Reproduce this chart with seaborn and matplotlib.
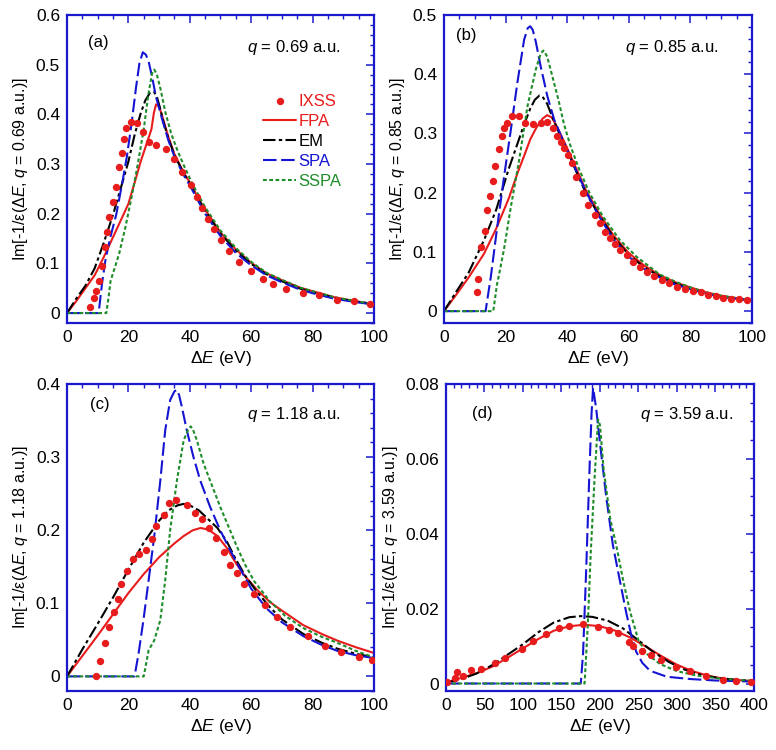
import numpy as np
import pandas as pd
import matplotlib
matplotlib.use("Agg")
import matplotlib.pyplot as plt
import seaborn as sns
from matplotlib.ticker import MultipleLocator, FuncFormatter

# ---------------- data: panel (a) q = 0.69 a.u. ----------------
E_ixss_a = [7.4, 8.7, 9.5, 10.5, 11.4, 12.5, 13.0, 13.8, 14.9, 15.9, 17.0, 17.9, 18.7, 19.2, 20.8, 22.8,
            24.9, 26.8, 29.0, 32.3, 34.9, 37.5, 40.3, 42.2, 44.0, 45.8, 47.9, 50.1, 52.7, 56.1, 59.8,
            63.7, 67.1, 71.2, 76.9, 82.0, 88.0, 93.5, 98.6]
ixss_a = [0.012, 0.03, 0.045, 0.065, 0.095, 0.133, 0.163, 0.194, 0.224, 0.254, 0.294, 0.323, 0.351, 0.373,
          0.384, 0.382, 0.364, 0.345, 0.338, 0.33, 0.31, 0.284, 0.257, 0.233, 0.211, 0.19, 0.17, 0.148,
          0.125, 0.103, 0.084, 0.069, 0.059, 0.049, 0.04, 0.036, 0.027, 0.024, 0.019]
E_fpa_a = [0, 3, 6, 9, 12, 15, 18, 20, 22, 24, 26, 27.5, 28.3, 29.0, 30, 31, 33, 35, 38, 40, 43, 45, 50,
           55, 60, 65, 70, 76, 80, 87, 93, 100]
fpa_a = [0, 0.024, 0.05, 0.076, 0.113, 0.153, 0.193, 0.22, 0.262, 0.305, 0.342, 0.37, 0.403, 0.42, 0.416,
         0.397, 0.355, 0.32, 0.283, 0.263, 0.229, 0.208, 0.162, 0.128, 0.101, 0.08, 0.066, 0.051, 0.044,
         0.032, 0.025, 0.018]
E_em_a = [0, 3, 6, 9, 12, 15, 18, 20, 22, 24, 25.5, 27, 28.2, 29.2, 30.2, 31.5, 33, 35, 38, 40, 43, 45, 50,
          55, 60, 65, 70, 76, 80, 87, 93, 100]
em_a = [0, 0.029, 0.055, 0.09, 0.142, 0.198, 0.262, 0.305, 0.358, 0.402, 0.428, 0.443, 0.446, 0.437, 0.415,
        0.383, 0.352, 0.318, 0.281, 0.261, 0.227, 0.206, 0.16, 0.126, 0.099, 0.078, 0.064, 0.049, 0.042,
        0.031, 0.024, 0.018]
E_spa_a = [0, 10.3, 11.4, 12.5, 14, 16, 18, 19.5, 21, 22.5, 23.6, 24.7, 25.7, 26.6, 27.7, 29, 31, 33, 35,
           38, 40, 45, 50, 55, 60, 65, 70, 76, 80, 87, 93, 100]
spa_a = [0, 0, 0.059, 0.106, 0.15, 0.197, 0.262, 0.315, 0.38, 0.455, 0.503, 0.525, 0.52, 0.506, 0.476,
         0.435, 0.39, 0.348, 0.315, 0.278, 0.257, 0.2, 0.155, 0.121, 0.096, 0.076, 0.062, 0.047, 0.04,
         0.029, 0.023, 0.017]
E_sspa_a = [0, 12.8, 13.5, 14.2, 15.5, 17, 19, 21, 23, 25, 26.5, 27.7, 28.4, 29.2, 30.5, 32, 34, 36, 38,
            41, 45, 50, 55, 60, 65, 70, 76, 80, 87, 93, 100]
sspa_a = [0, 0, 0.03, 0.065, 0.09, 0.12, 0.172, 0.232, 0.298, 0.37, 0.44, 0.482, 0.49, 0.482, 0.45, 0.405,
          0.36, 0.327, 0.298, 0.258, 0.213, 0.166, 0.131, 0.103, 0.081, 0.067, 0.051, 0.044, 0.032,
          0.025, 0.018]

# ---------------- data: panel (b) q = 0.85 a.u. ----------------
E_ixss_b = [10.6, 11.1, 12.1, 13.2, 14.1, 15.0, 15.9, 16.6, 17.9, 18.7, 19.5, 20.3, 22.2, 24.4, 26.3, 28.9,
            31.5, 33.3, 35.5, 36.8, 37.9, 39.0, 40.2, 41.4, 43.0, 45.2, 46.8, 49.0, 50.6, 52.2, 53.9,
            55.5, 57.3, 59.3, 61.4, 63.6, 66.0, 68.3, 70.7, 73.1, 75.7, 78.2, 80.7, 83.3, 85.6, 88.2,
            90.7, 93.2, 95.8, 98.3]
ixss_b = [0.033, 0.055, 0.109, 0.135, 0.171, 0.195, 0.22, 0.245, 0.274, 0.295, 0.309, 0.317, 0.33, 0.33,
          0.317, 0.316, 0.318, 0.32, 0.309, 0.296, 0.286, 0.275, 0.263, 0.25, 0.227, 0.199, 0.179, 0.162,
          0.148, 0.134, 0.124, 0.114, 0.103, 0.095, 0.083, 0.075, 0.066, 0.059, 0.052, 0.047, 0.041,
          0.037, 0.034, 0.032, 0.028, 0.025, 0.023, 0.021, 0.02, 0.019]
E_fpa_b = [0, 4, 8, 13, 17, 21, 24, 26, 28, 30, 32, 33.5, 35, 37, 40, 43, 46, 50, 55, 60, 65, 70, 75, 80,
           85, 90, 95, 100]
fpa_b = [0, 0.028, 0.057, 0.097, 0.14, 0.19, 0.235, 0.262, 0.29, 0.31, 0.325, 0.331, 0.327, 0.308, 0.275,
         0.24, 0.205, 0.168, 0.128, 0.098, 0.077, 0.061, 0.049, 0.04, 0.032, 0.026, 0.022, 0.018]
E_em_b = [0, 4, 8, 13, 17, 21, 24, 26, 28, 29.5, 31, 32, 33.5, 35, 37, 40, 43, 46, 50, 55, 60, 65, 70, 75,
          80, 85, 90, 95, 100]
em_b = [0, 0.033, 0.065, 0.12, 0.172, 0.24, 0.285, 0.315, 0.342, 0.357, 0.364, 0.362, 0.35, 0.33, 0.305,
        0.272, 0.235, 0.2, 0.165, 0.125, 0.095, 0.074, 0.059, 0.047, 0.038, 0.031, 0.025, 0.021, 0.018]
E_spa_b = [0, 13.5, 15.2, 17.3, 19.5, 21.7, 23.8, 26, 27.2, 28, 28.8, 29.8, 31.4, 33.6, 35.8, 39, 42.3,
           46, 50, 55, 60, 65, 70, 75, 80, 85, 90, 95, 100]
spa_b = [0, 0, 0.058, 0.143, 0.227, 0.306, 0.385, 0.458, 0.478, 0.481, 0.475, 0.455, 0.413, 0.362, 0.323,
         0.284, 0.244, 0.203, 0.163, 0.121, 0.092, 0.071, 0.057, 0.045, 0.037, 0.03, 0.024, 0.021, 0.018]
E_sspa_b = [0, 16, 17.2, 18, 19.5, 21.7, 24.4, 27.1, 29.8, 31.4, 32.3, 33.5, 35, 37, 39, 41, 44, 47.3,
            51.7, 57.1, 62.5, 70, 75, 80, 85, 90, 95, 100]
sspa_b = [0, 0, 0.045, 0.065, 0.105, 0.176, 0.255, 0.346, 0.408, 0.435, 0.44, 0.43, 0.4, 0.36, 0.315,
          0.28, 0.238, 0.199, 0.159, 0.12, 0.092, 0.062, 0.05, 0.04, 0.032, 0.026, 0.022, 0.019]

# ---------------- data: panel (c) q = 1.18 a.u. ----------------
E_ixss_c = [9.4, 10.8, 12.5, 13.8, 15.2, 16.5, 17.6, 19.5, 21.5, 23.3, 25.7, 27.7, 29.1, 31.5, 33.1, 35.6,
            39.0, 41.8, 43.9, 46.3, 48.6, 51.0, 53.1, 55.4, 57.8, 60.9, 64.6, 68.4, 72.8, 78.4, 84.2,
            89.4, 95.0, 99.3]
ixss_c = [0.001, 0.021, 0.045, 0.068, 0.088, 0.106, 0.126, 0.144, 0.16, 0.167, 0.173, 0.188, 0.206, 0.221,
          0.237, 0.241, 0.234, 0.224, 0.215, 0.203, 0.189, 0.17, 0.153, 0.141, 0.127, 0.113, 0.097,
          0.081, 0.068, 0.055, 0.041, 0.033, 0.027, 0.023]
E_fpa_c = [0, 5, 10, 15, 20, 25, 30, 35, 38, 41, 43.5, 46, 49, 52, 55, 58, 62, 66, 70, 77, 83, 88, 94, 100]
fpa_c = [0, 0.028, 0.056, 0.085, 0.114, 0.14, 0.163, 0.182, 0.192, 0.2, 0.203, 0.201, 0.192, 0.176, 0.155,
         0.137, 0.118, 0.102, 0.09, 0.07, 0.058, 0.049, 0.04, 0.032]
E_em_c = [0, 5, 10, 15, 20, 25, 30, 33, 36, 38, 40, 43, 46, 49, 52, 55, 58, 62, 66, 70, 77, 83, 88, 94, 100]
em_c = [0, 0.037, 0.072, 0.108, 0.146, 0.183, 0.213, 0.227, 0.234, 0.236, 0.234, 0.227, 0.215, 0.203,
        0.185, 0.16, 0.138, 0.115, 0.095, 0.078, 0.058, 0.046, 0.038, 0.031, 0.026]
E_spa_c = [0, 22, 23.3, 24.9, 26.6, 28.4, 30.4, 32, 33.6, 35, 35.8, 36.5, 37.4, 39, 41.2, 43.4, 46.6,
           49.9, 53.1, 56, 60, 65, 70, 77, 83, 88, 94, 100]
spa_c = [0, 0, 0.031, 0.077, 0.132, 0.191, 0.268, 0.337, 0.378, 0.39, 0.392, 0.385, 0.369, 0.337, 0.3,
         0.268, 0.232, 0.2, 0.173, 0.15, 0.12, 0.093, 0.074, 0.055, 0.043, 0.035, 0.029, 0.025]
E_sspa_c = [0, 25, 26.6, 28.4, 30.4, 32, 33.6, 35.8, 38, 39.5, 40.3, 41, 42.3, 44.5, 46.6, 49.9, 53.1,
            55.4, 58, 61, 66, 71, 77, 83, 88, 94, 100]
sspa_c = [0, 0, 0.036, 0.049, 0.077, 0.132, 0.2, 0.268, 0.323, 0.338, 0.342, 0.338, 0.323, 0.291, 0.268,
          0.232, 0.2, 0.177, 0.153, 0.13, 0.103, 0.083, 0.066, 0.054, 0.046, 0.035, 0.026]

# ---------------- data: panel (d) q = 3.59 a.u. ----------------
E_ixss_d = [1.3, 12, 14.3, 22.5, 32, 45.5, 63, 77, 99, 113, 130, 146.5, 160, 178.5, 197, 211.5, 223,
            237.5, 243, 255, 265.7, 279.5, 299, 317, 338, 359.7, 377, 396.5]
ixss_d = [0.0003, 0.0016, 0.0031, 0.0021, 0.0036, 0.004, 0.0056, 0.0068, 0.0093, 0.0113, 0.0133, 0.0147,
          0.0154, 0.0158, 0.0151, 0.0142, 0.0136, 0.011, 0.0101, 0.0088, 0.0077, 0.0063, 0.0045, 0.0033,
          0.002, 0.0009, 0.0007, 0.0004]
E_fpa_d = [0, 20, 40, 60, 80, 100, 120, 140, 160, 180, 200, 220, 240, 260, 280, 300, 320, 340, 360, 380, 400]
fpa_d = [0.0003, 0.0015, 0.0028, 0.0045, 0.0069, 0.0094, 0.0119, 0.0141, 0.0153, 0.0157, 0.0153, 0.0141,
         0.0122, 0.0098, 0.0073, 0.005, 0.0033, 0.0021, 0.0013, 0.0009, 0.0006]
E_em_d = [0, 20, 40, 60, 80, 100, 120, 140, 160, 175, 190, 210, 230, 250, 270, 290, 310, 330, 350, 375, 400]
em_d = [0.0002, 0.0012, 0.0027, 0.0049, 0.0077, 0.0105, 0.0137, 0.0163, 0.0177, 0.018, 0.0178, 0.0168,
        0.0147, 0.0115, 0.0083, 0.0057, 0.0037, 0.0024, 0.0016, 0.001, 0.0007]
E_spa_d = [0, 175, 178, 182, 186, 189, 191, 195, 201.5, 208, 216.7, 225.3, 234, 240.5, 247, 255, 265, 287,
           317, 350, 400]
spa_d = [0, 0, 0.008, 0.03, 0.055, 0.072, 0.079, 0.0735, 0.0615, 0.05, 0.037, 0.028, 0.019, 0.013, 0.0085,
         0.0055, 0.0034, 0.0018, 0.0012, 0.0008, 0.0005]
E_sspa_d = [0, 180, 184, 188, 193, 197.5, 200, 204.6, 213.3, 222, 230.6, 239.3, 250, 261, 278, 300, 326,
            360, 400]
sspa_d = [0, 0, 0.015, 0.035, 0.055, 0.0705, 0.069, 0.0575, 0.044, 0.036, 0.027, 0.019, 0.0115, 0.0079,
          0.0052, 0.0033, 0.0021, 0.0012, 0.0007]

panel_tags = ["(a)", "(b)", "(c)", "(d)"]
q_values = ["0.69", "0.85", "1.18", "3.59"]
series_names = ["IXSS", "FPA", "EM", "SPA", "SSPA"]

# ---------------- style ----------------
sns.set_theme(style="white")
plt.rcParams["font.family"] = ["Liberation Sans", "DejaVu Sans"]
plt.rcParams["mathtext.fontset"] = "custom"
plt.rcParams["mathtext.rm"] = "Liberation Sans"
plt.rcParams["mathtext.it"] = "Liberation Sans:italic"
plt.rcParams["mathtext.bf"] = "Liberation Sans:bold"
plt.rcParams["text.color"] = "black"
plt.rcParams["axes.labelcolor"] = "black"
plt.rcParams["xtick.labelcolor"] = "black"
plt.rcParams["ytick.labelcolor"] = "black"

RED = "#e81c1c"
BLACK = "#000000"
BLUE = "#1414d2"
GREEN = "#1f8c2a"
FRAME = "#1a1acc"
FS_TICK = 12.5
FS_XLAB = 12.5
FS_YLAB = 11.5
FS_TXT = 12
FS_LEG = 12

styles = {
    "FPA": dict(color=RED, linestyle="-", linewidth=1.5),
    "EM": dict(color=BLACK, linestyle=(0, (6, 1.6, 1.6, 1.6)), linewidth=1.5),
    "SPA": dict(color=BLUE, linestyle=(0, (6.5, 2.2)), linewidth=1.5),
    "SSPA": dict(color=GREEN, linestyle=(0, (1.8, 1.2)), linewidth=1.5),
}

panels = [
    dict(ixss=(E_ixss_a, ixss_a), FPA=(E_fpa_a, fpa_a), EM=(E_em_a, em_a), SPA=(E_spa_a, spa_a),
         SSPA=(E_sspa_a, sspa_a), xlim=(0, 100), ylim=(-0.02, 0.6), xmaj=20, xmin=5, ymaj=0.1, ymin=0.02,
         rect=[67, 15, 374, 323], tag_xy=(0.068, 0.91), q_xy=(0.89, 0.893)),
    dict(ixss=(E_ixss_b, ixss_b), FPA=(E_fpa_b, fpa_b), EM=(E_em_b, em_b), SPA=(E_spa_b, spa_b),
         SSPA=(E_sspa_b, sspa_b), xlim=(0, 100), ylim=(-0.02, 0.5), xmaj=20, xmin=5, ymaj=0.1, ymin=0.02,
         rect=[444, 15, 752, 323], tag_xy=(0.04, 0.932), q_xy=(0.89, 0.893)),
    dict(ixss=(E_ixss_c, ixss_c), FPA=(E_fpa_c, fpa_c), EM=(E_em_c, em_c), SPA=(E_spa_c, spa_c),
         SSPA=(E_sspa_c, sspa_c), xlim=(0, 100), ylim=(-0.02, 0.4), xmaj=20, xmin=5, ymaj=0.1, ymin=0.02,
         rect=[67, 384, 374, 691], tag_xy=(0.075, 0.932), q_xy=(0.89, 0.902)),
    dict(ixss=(E_ixss_d, ixss_d), FPA=(E_fpa_d, fpa_d), EM=(E_em_d, em_d), SPA=(E_spa_d, spa_d),
         SSPA=(E_sspa_d, sspa_d), xlim=(0, 400), ylim=(-0.002, 0.08), xmaj=50, xmin=10, ymaj=0.02,
         ymin=0.005, rect=[446, 384, 754, 691], tag_xy=(0.084, 0.905), q_xy=(0.932, 0.902)),
]

W, H = 776, 750
fig = plt.figure(figsize=(W / 100, H / 100), dpi=100)

fmt = FuncFormatter(lambda v, _: "0" if abs(v) < 1e-12 else ("%g" % round(v, 6)))

for i, p in enumerate(panels):
    l, t, r, b = p["rect"]
    ax = fig.add_axes([l / W, 1 - b / H, (r - l) / W, (b - t) / H])
    for name in ["FPA", "EM", "SPA", "SSPA"]:
        xs, ys = p[name]
        df = pd.DataFrame({"E": xs, "v": ys})
        sns.lineplot(data=df, x="E", y="v", ax=ax, estimator=None, sort=False, label=name,
                     **styles[name])
    xs, ys = p["ixss"]
    dfi = pd.DataFrame({"E": xs, "v": ys})
    sns.scatterplot(data=dfi, x="E", y="v", ax=ax, color=RED, s=28, linewidth=0, label="IXSS", zorder=5)

    ax.set_xlim(*p["xlim"])
    ax.set_ylim(*p["ylim"])
    ax.xaxis.set_major_locator(MultipleLocator(p["xmaj"]))
    ax.xaxis.set_minor_locator(MultipleLocator(p["xmin"]))
    ax.yaxis.set_major_locator(MultipleLocator(p["ymaj"]))
    ax.yaxis.set_minor_locator(MultipleLocator(p["ymin"]))
    ax.xaxis.set_major_formatter(fmt)
    ax.yaxis.set_major_formatter(fmt)
    ax.tick_params(which="both", direction="in", top=True, right=True, color=FRAME,
                   labelcolor="black", labelsize=FS_TICK)
    ax.tick_params(which="major", length=6, width=1.1, pad=5)
    ax.tick_params(which="minor", length=3, width=1.0)
    for s in ax.spines.values():
        s.set_color(FRAME)
        s.set_linewidth(1.6)

    ax.set_xlabel(r"$\mathit{\Delta E}$ (eV)", fontsize=FS_XLAB, labelpad=3, color="black")
    ax.set_ylabel(r"Im[-1/ε($\mathit{\Delta E}$, $\mathit{q}$ = " + q_values[i] + " a.u.)]",
                  fontsize=FS_YLAB, labelpad=4, color="black")
    ax.text(p["tag_xy"][0], p["tag_xy"][1], panel_tags[i], transform=ax.transAxes, fontsize=FS_TXT,
            ha="left", va="center", color="black")
    ax.text(p["q_xy"][0], p["q_xy"][1], r"$\mathit{q}$ = " + q_values[i] + " a.u.",
            transform=ax.transAxes, fontsize=FS_TXT, ha="right", va="center", color="black")

    handles, labels = ax.get_legend_handles_labels()
    if ax.get_legend() is not None:
        ax.get_legend().remove()
    if i == 0:
        hmap = dict(zip(labels, handles))
        leg = ax.legend([hmap[n] for n in series_names], series_names, loc="upper left",
                        bbox_to_anchor=(0.638, 0.745), frameon=False, fontsize=FS_LEG,
                        handlelength=2.0, handletextpad=0.15, labelspacing=0.3, borderpad=0,
                        borderaxespad=0, scatterpoints=1)
        for txt, c in zip(leg.get_texts(), [RED, RED, BLACK, BLUE, GREEN]):
            txt.set_color(c)

fig.savefig("out.png", dpi=100)
